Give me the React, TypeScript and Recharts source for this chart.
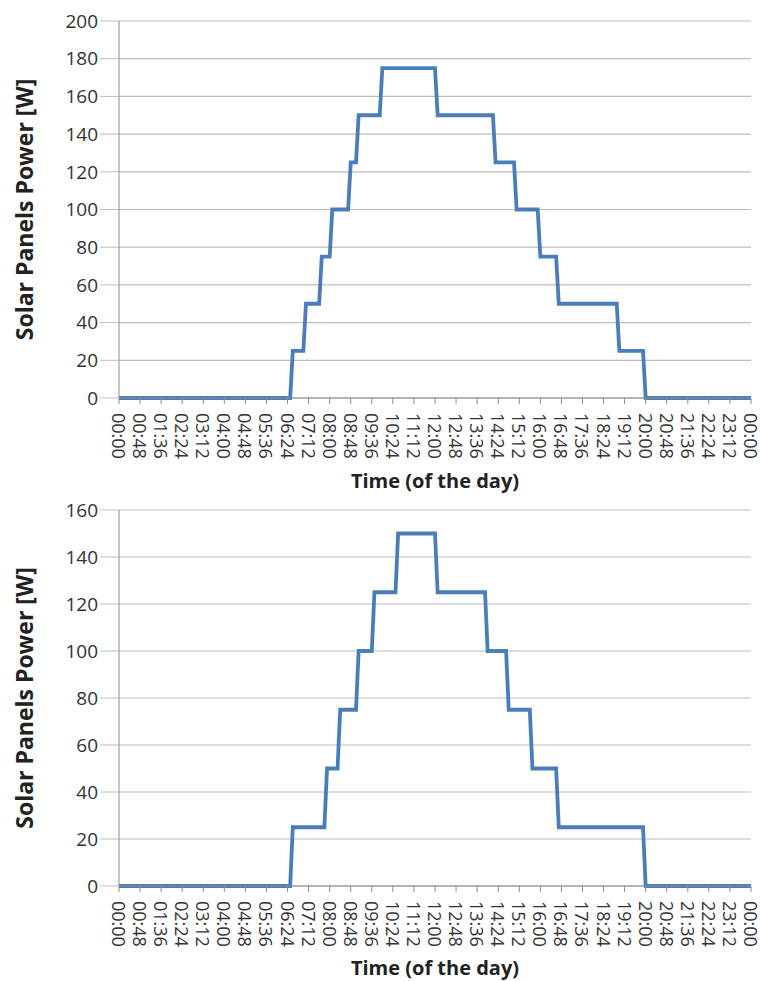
import React from 'react';
import { LineChart, Line, XAxis, YAxis, CartesianGrid, Label } from 'recharts';

// minutes of the day where each plateau starts / ends
const topTimes = [0, 390, 396, 420, 426, 456, 462, 480, 486, 522, 528, 540, 546, 594, 600, 720, 726, 852, 858, 900, 906, 954, 960, 996, 1002, 1134, 1140, 1194, 1200, 1440];
const topPower = [0, 0, 25, 25, 50, 50, 75, 75, 100, 100, 125, 125, 150, 150, 175, 175, 150, 150, 125, 125, 100, 100, 75, 75, 50, 50, 25, 25, 0, 0];

const bottomTimes = [0, 390, 396, 468, 474, 498, 504, 540, 546, 576, 582, 630, 636, 720, 726, 834, 840, 882, 888, 936, 942, 996, 1002, 1194, 1200, 1440];
const bottomPower = [0, 0, 25, 25, 50, 50, 75, 75, 100, 100, 125, 125, 150, 150, 125, 125, 100, 100, 75, 75, 50, 50, 25, 25, 0, 0];

const tickMinutes = [0, 48, 96, 144, 192, 240, 288, 336, 384, 432, 480, 528, 576, 624, 672, 720, 768, 816, 864, 912, 960, 1008, 1056, 1104, 1152, 1200, 1248, 1296, 1344, 1392, 1440];
const tickLabels = ['00:00', '00:48', '01:36', '02:24', '03:12', '04:00', '04:48', '05:36', '06:24', '07:12', '08:00', '08:48', '09:36', '10:24', '11:12', '12:00', '12:48', '13:36', '14:24', '15:12', '16:00', '16:48', '17:36', '18:24', '19:12', '20:00', '20:48', '21:36', '22:24', '23:12', '00:00'];

const topYTicks = [0, 20, 40, 60, 80, 100, 120, 140, 160, 180, 200];
const bottomYTicks = [0, 20, 40, 60, 80, 100, 120, 140, 160];

const FONT = "'Open Sans', Lato, sans-serif";
const TEXT = '#333';
const AXIS = '#8c8c8c';

const TimeTick = (props: any) => {
  const { x, y, payload } = props;
  const i = tickMinutes.indexOf(payload.value);
  return (
    <text x={x} y={y} transform={`rotate(90, ${x}, ${y})`} textAnchor="start" dominantBaseline="central"
      fontFamily={FONT} fontSize={18} fill={TEXT}>
      {tickLabels[i]}
    </text>
  );
};

type PanelProps = {
  top: number;
  height: number;
  marginTop: number;
  marginRight: number;
  xAxisHeight: number;
  titleBaseline: number;
  times: number[];
  power: number[];
  yTicks: number[];
};

const Panel = ({ top, height, marginTop, marginRight, xAxisHeight, titleBaseline, times, power, yTicks }: PanelProps) => {
  const data = times.map((t, i) => ({ t, p: power[i] }));
  const yMax = yTicks[yTicks.length - 1];
  return (
    <div style={{ position: 'absolute', left: 0, top }}>
      <LineChart width={760} height={height} data={data} style={{ overflow: 'visible' }}
        margin={{ top: marginTop, right: marginRight, bottom: 0, left: 0 }}>
        <CartesianGrid vertical={false} stroke="#bdbdbd" strokeWidth={1.2} />
        <XAxis dataKey="t" type="number" domain={[0, 1440]} ticks={tickMinutes} interval={0}
          height={xAxisHeight} tickSize={6} tickMargin={9} tick={<TimeTick />}
          axisLine={{ stroke: AXIS }} tickLine={{ stroke: AXIS }}>
          <Label content={(p: any) => {
            const vb = p.viewBox;
            return (
              <text x={vb.x + vb.width / 2} y={vb.y + titleBaseline} textAnchor="middle"
                fontFamily={FONT} fontWeight="bold" fontSize={20} fill="#222">
                Time (of the day)
              </text>
            );
          }} />
        </XAxis>
        <YAxis type="number" domain={[0, yMax]} ticks={yTicks} interval={0} width={119}
          tickSize={19} tickMargin={2} axisLine={{ stroke: AXIS }} tickLine={{ stroke: '#bdbdbd' }}
          tick={{ fontFamily: FONT, fontSize: 19, fill: TEXT }}>
          <Label content={(p: any) => {
            const vb = p.viewBox;
            const cy = vb.y + vb.height / 2;
            return (
              <text x={33} y={cy} transform={`rotate(-90, 33, ${cy})`} textAnchor="middle"
                fontFamily={FONT} fontWeight="bold" fontSize={23} fill="#222">
                Solar Panels Power [W]
              </text>
            );
          }} />
        </YAxis>
        <Line type="linear" dataKey="p" stroke="#4a7ebb" strokeWidth={3.8} dot={false}
          activeDot={false} isAnimationActive={false} />
      </LineChart>
    </div>
  );
};

export default function App() {
  return (
    <div style={{ position: 'absolute', left: 0, top: 0, width: 760, height: 981, background: '#fff' }}>
      <Panel top={0} height={496} marginTop={21} marginRight={9} xAxisHeight={98} titleBaseline={90}
        times={topTimes} power={topPower} yTicks={topYTicks} />
      <Panel top={490} height={491} marginTop={20} marginRight={9} xAxisHeight={95} titleBaseline={89}
        times={bottomTimes} power={bottomPower} yTicks={bottomYTicks} />
    </div>
  );
}
